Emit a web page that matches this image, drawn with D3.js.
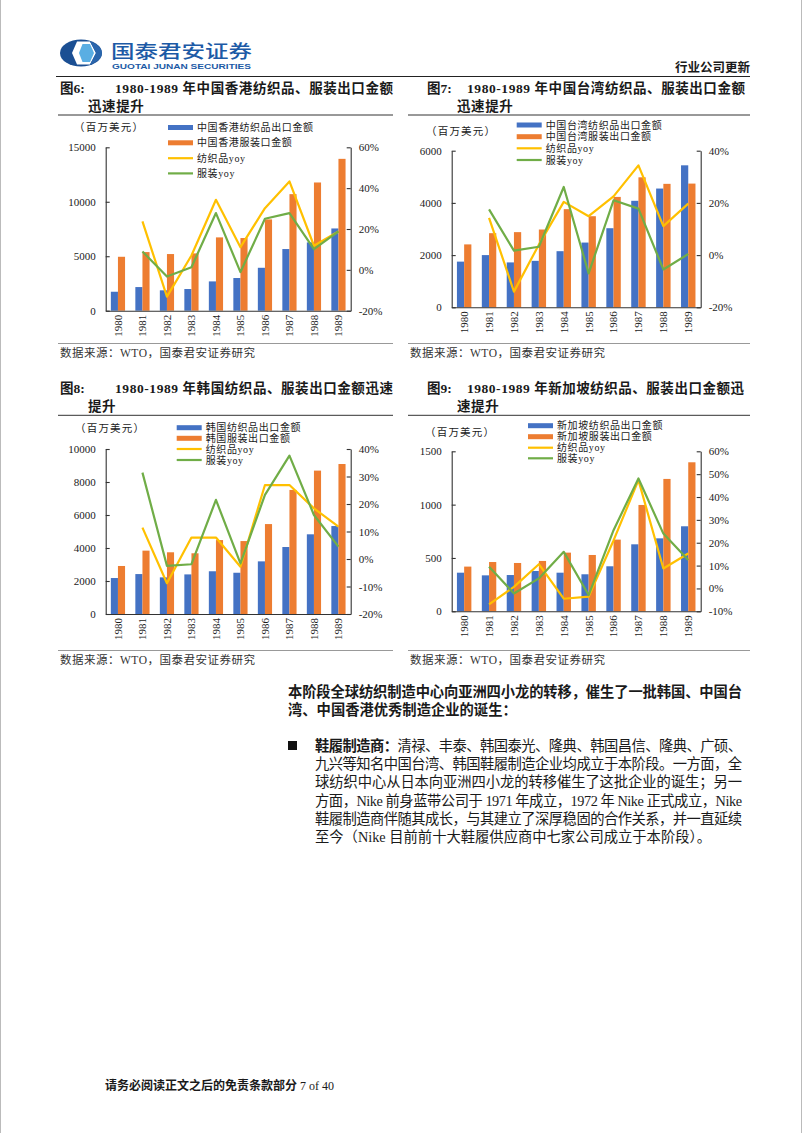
<!DOCTYPE html>
<html>
<head>
<meta charset="utf-8">
<script src="https://cdn.jsdelivr.net/npm/d3@7/dist/d3.min.js"></script>
<style>
  body { margin: 0; background: #fff; }
  svg { display: block; }
</style>
</head>
<body>
<svg id="page" width="802" height="1133"></svg>
<script>
// ---- data ----
const years = ["1980", "1981", "1982", "1983", "1984", "1985", "1986", "1987", "1988", "1989"];

const hkTextile = [1740, 2170, 1870, 1990, 2690, 3000, 3940, 5660, 6270, 7550];
const hkApparel = [4950, 5380, 5200, 5260, 6730, 6670, 8380, 10700, 11770, 13940];
const hkTextileYoy = [null, 23.7, -13.1, 7.0, 34.3, 11.1, 30.2, 43.3, 11.8, 18.8];
const hkApparelYoy = [null, 9.0, -3.3, 1.3, 27.8, -1.1, 25.0, 27.8, 10.1, 18.8];

const twTextile = [1750, 2000, 1720, 1780, 2150, 2480, 3030, 4080, 4550, 5440];
const twApparel = [2410, 2840, 2880, 2980, 3760, 3490, 4230, 4980, 4730, 4740];
const twTextileYoy = [null, 14.3, -14.0, 4.0, 20.4, 14.9, 22.5, 34.4, 11.1, 19.7];
const twApparelYoy = [null, 17.5, 1.7, 3.2, 26.1, -7.0, 21.0, 17.8, -5.5, 0.4];

const krTextile = [2180, 2420, 2220, 2400, 2590, 2500, 3190, 4060, 4830, 5330];
const krApparel = [2910, 3840, 3740, 3680, 4480, 4420, 5450, 7520, 8690, 9090];
const krTextileYoy = [null, 11.4, -8.8, 7.8, 7.8, -2.8, 26.9, 26.9, 18.4, 11.8];
const krApparelYoy = [null, 31.4, -2.5, -1.9, 21.5, -1.6, 23.3, 37.6, 16.0, 4.5];

const sgTextile = [362, 337, 340, 378, 362, 347, 422, 628, 684, 797];
const sgApparel = [419, 462, 453, 472, 550, 528, 672, 997, 1241, 1397];
const sgTextileYoy = [null, -7.0, 0.7, 10.6, -4.5, -3.6, 21.0, 47.4, 8.7, 15.3];
const sgApparelYoy = [null, 9.5, -2.2, 4.4, 16.0, -2.9, 25.5, 48.1, 24.0, 12.4];

const hkLeftTicks = [0, 5000, 10000, 15000];
const hkRightTicks = [-20, 0, 20, 40, 60];
const twLeftTicks = [0, 2000, 4000, 6000];
const twRightTicks = [-20, 0, 20, 40];
const krLeftTicks = [0, 2000, 4000, 6000, 8000, 10000];
const krRightTicks = [-20, -10, 0, 10, 20, 30, 40];
const sgLeftTicks = [0, 500, 1000, 1500];
const sgRightTicks = [-10, 0, 10, 20, 30, 40, 50, 60];

const hkLegend = ["中国香港纺织品出口金额", "中国香港服装口金额", "纺织品yoy", "服装yoy"];
const twLegend = ["中国台湾纺织品出口金额", "中国台湾服装出口金额", "纺织品yoy", "服装yoy"];
const krLegend = ["韩国纺织品出口金额", "韩国服装出口金额", "纺织品yoy", "服装yoy"];
const sgLegend = ["新加坡纺织品出口金额", "新加坡服装出口金额", "纺织品yoy", "服装yoy"];

// ---- style ----
const blue = "#4472C4", orange = "#ED7D31", yellow = "#FFC000", green = "#70AD47";
const textColor = "#1a1a1a";
const serif = "'Liberation Serif','Times New Roman','Noto Sans CJK SC',serif";

let svg = d3.select("#page");

// faint page edges
svg.append("line").attr("x1", 0.5).attr("x2", 0.5).attr("y1", 0).attr("y2", 1133).style("stroke", "#bbb");
svg.append("line").attr("x1", 801.5).attr("x2", 801.5).attr("y1", 0).attr("y2", 1133).style("stroke", "#bbb");

// ---- header ----
function drawHeader() {
  let logo = svg.append("g");
  logo.append("ellipse").attr("cx", 81).attr("cy", 53).attr("rx", 21).attr("ry", 13.5).style("fill", "#1b4f93");
  logo.append("path")
    .attr("d", "M72,53 L77,41.5 L90,41.5 L96,53 L90,64.5 L77,64.5 Z")
    .style("fill", "#fff");
  logo.append("path")
    .attr("d", "M79,53 L82.5,44 L90,44 L94,53 L90,62 L82.5,62 Z")
    .style("fill", "#5aaee3");
  logo.append("path")
    .attr("d", "M96,53 L90,41.5 L93,42.5 Q102,47 102,53 Q102,59 93,63.5 L90,64.5 Z")
    .style("fill", "#2a66ad");

  svg.append("text")
    .attr("x", 111).attr("y", 58)
    .attr("textLength", 141).attr("lengthAdjust", "spacingAndGlyphs")
    .text("国泰君安证券")
    .style("font-family", "'Noto Sans CJK SC'")
    .style("font-weight", "500")
    .style("font-size", "18px")
    .style("fill", "#1c5aa6");
  svg.append("text")
    .attr("x", 112).attr("y", 68.5)
    .attr("textLength", 139).attr("lengthAdjust", "spacingAndGlyphs")
    .text("GUOTAI JUNAN SECURITIES")
    .style("font-family", "'Liberation Sans',Arial,sans-serif")
    .style("font-weight", "bold")
    .style("font-size", "7.5px")
    .style("fill", "#1c5aa6");

  svg.append("text")
    .attr("x", 750).attr("y", 72)
    .text("行业公司更新")
    .style("text-anchor", "end")
    .style("font-family", serif)
    .style("font-weight", "bold")
    .style("font-size", "12.5px")
    .style("fill", textColor);

  svg.append("line")
    .attr("x1", 56).attr("x2", 750).attr("y1", 76.5).attr("y2", 76.5)
    .style("stroke", "#222").style("stroke-width", 1.2);
}

// ---- one figure ----
function drawChart(cfg) {
  let g = svg.append("g");

  // title
  g.append("text")
    .attr("x", cfg.figX).attr("y", cfg.titleY)
    .text(cfg.fig)
    .style("font-family", serif).style("font-weight", "bold").style("font-size", "13.5px")
    .style("fill", textColor);
  g.append("text")
    .attr("x", cfg.titleX).attr("y", cfg.titleY)
    .attr("textLength", cfg.titleEnd - cfg.titleX).attr("lengthAdjust", "spacing")
    .text(cfg.title1)
    .style("font-family", serif).style("font-weight", "bold").style("font-size", "13.5px")
    .style("fill", textColor);
  g.append("text")
    .attr("x", cfg.title2X).attr("y", cfg.titleY + 17.8)
    .text(cfg.title2)
    .style("font-family", serif).style("font-weight", "bold").style("font-size", "13.5px")
    .style("letter-spacing", "0.6px")
    .style("fill", textColor);
  g.append("line")
    .attr("x1", cfg.ruleX0).attr("x2", cfg.ruleX1).attr("y1", cfg.titleY + 22).attr("y2", cfg.titleY + 22)
    .style("stroke", "#333").style("stroke-width", 1);

  // source
  g.append("line")
    .attr("x1", cfg.ruleX0).attr("x2", cfg.ruleX1).attr("y1", cfg.sourceY - 13.5).attr("y2", cfg.sourceY - 13.5)
    .style("stroke", "#999").style("stroke-width", 1);
  g.append("text")
    .attr("x", cfg.ruleX0 + 2).attr("y", cfg.sourceY)
    .text("数据来源：WTO，国泰君安证券研究")
    .style("font-family", serif).style("font-size", "11.5px")
    .style("letter-spacing", "0.5px")
    .style("fill", "#333");

  // unit
  g.append("text")
    .attr("x", cfg.unitX).attr("y", cfg.unitY)
    .text("（百万美元）")
    .style("font-family", serif).style("font-size", "10.5px")
    .style("letter-spacing", "1.2px")
    .style("fill", textColor);

  // scales
  let x = d3.scaleBand().domain(years).range([cfg.x0, cfg.x1]);
  let yL = d3.scaleLinear().domain(d3.extent(cfg.leftTicks)).range([cfg.yBot, cfg.yTop]);
  let yR = d3.scaleLinear().domain(d3.extent(cfg.rightTicks)).range([cfg.yBot, cfg.yTop]);
  let bw = x.bandwidth() * 0.29;
  let mid = (i) => x(years[i]) + x.bandwidth() / 2;

  g.selectAll(".textileBar")
    .data(cfg.textile)
    .enter()
    .append("rect")
      .attr("x", (d, i) => mid(i) - bw)
      .attr("y", d => yL(d))
      .attr("width", bw)
      .attr("height", d => yL(0) - yL(d))
      .style("fill", blue);
  g.selectAll(".apparelBar")
    .data(cfg.apparel)
    .enter()
    .append("rect")
      .attr("x", (d, i) => mid(i))
      .attr("y", d => yL(d))
      .attr("width", bw)
      .attr("height", d => yL(0) - yL(d))
      .style("fill", orange);

  let line = d3.line()
    .defined(d => d != null)
    .x((d, i) => mid(i))
    .y(d => yR(d));
  g.append("path").datum(cfg.textileYoy).attr("d", line)
    .style("fill", "none").style("stroke", yellow).style("stroke-width", 2.2).style("stroke-linejoin", "round");
  g.append("path").datum(cfg.apparelYoy).attr("d", line)
    .style("fill", "none").style("stroke", green).style("stroke-width", 2.2).style("stroke-linejoin", "round");

  // axes
  let axL = g.append("g")
    .attr("transform", `translate(${cfg.x0},0)`)
    .call(d3.axisLeft(yL).tickValues(cfg.leftTicks).tickSizeInner(-4).tickSizeOuter(0).tickPadding(10)
      .tickFormat(d3.format("d")));
  let axR = g.append("g")
    .attr("transform", `translate(${cfg.x1},0)`)
    .call(d3.axisRight(yR).tickValues(cfg.rightTicks).tickSizeInner(-4).tickSizeOuter(0).tickPadding(8)
      .tickFormat(d => d + "%"));
  let axB = g.append("g")
    .attr("transform", `translate(0,${cfg.yBot})`)
    .call(d3.axisBottom(x).tickSize(0).tickPadding(0));
  axB.selectAll("text")
    .attr("transform", "rotate(-90)")
    .attr("x", -4).attr("y", 0).attr("dy", "0.35em")
    .style("text-anchor", "end");

  [axL, axR, axB].forEach(a => {
    a.selectAll("path, line").style("stroke", "#333").style("stroke-width", 1.1);
    a.selectAll("text")
      .style("font-family", serif).style("font-size", "11px").style("fill", textColor);
  });

  // legend
  cfg.legend.forEach((name, i) => {
    let y = cfg.legendRows[i];
    if (i < 2) {
      g.append("rect")
        .attr("x", cfg.legendX).attr("y", y - 2.5).attr("width", 25).attr("height", 5)
        .style("fill", i == 0 ? blue : orange);
    } else {
      g.append("line")
        .attr("x1", cfg.legendX).attr("x2", cfg.legendX + 25).attr("y1", y).attr("y2", y)
        .style("stroke", i == 2 ? yellow : green).style("stroke-width", 2.2);
    }
    g.append("text")
      .attr("x", cfg.legendX + 29).attr("y", y).attr("dy", "0.36em")
      .text(name)
      .style("font-family", serif).style("font-size", "10px")
      .style("letter-spacing", "0.6px")
      .style("fill", textColor);
  });
}

// ---- body text ----
function drawBody() {
  let para = ["本阶段全球纺织制造中心向亚洲四小龙的转移，催生了一批韩国、中国台",
              "湾、中国香港优秀制造企业的诞生："];
  para.forEach((t, i) => {
    let el = svg.append("text")
      .attr("x", 288).attr("y", 697 + i * 18.4)
      .text(t)
      .style("font-family", serif).style("font-weight", "bold").style("font-size", "14.3px")
      .style("fill", textColor);
    if (i == 0) el.attr("textLength", 454).attr("lengthAdjust", "spacing");
  });

  svg.append("rect").attr("x", 288).attr("y", 741).attr("width", 9).attr("height", 9).style("fill", "#111");

  let bullet = [
    "清禄、丰泰、韩国泰光、隆典、韩国昌信、隆典、广硕、",
    "九兴等知名中国台湾、韩国鞋履制造企业均成立于本阶段。一方面，全",
    "球纺织中心从日本向亚洲四小龙的转移催生了这批企业的诞生；另一",
    "方面，Nike 前身蓝带公司于 1971 年成立，1972 年 Nike 正式成立，Nike",
    "鞋履制造商伴随其成长，与其建立了深厚稳固的合作关系，并一直延续",
    "至今（Nike 目前前十大鞋履供应商中七家公司成立于本阶段）。"
  ];
  bullet.forEach((t, i) => {
    let y = 750.5 + i * 18.35;
    if (i == 0) {
      let el = svg.append("text").attr("x", 315).attr("y", y)
        .attr("textLength", 427).attr("lengthAdjust", "spacing")
        .style("font-family", serif).style("font-size", "14.3px").style("fill", textColor);
      el.append("tspan").text("鞋履制造商：").style("font-weight", "bold");
      el.append("tspan").text(t);
    } else {
      let el = svg.append("text").attr("x", 315).attr("y", y)
        .text(t)
        .style("font-family", serif).style("font-size", "14.3px").style("fill", textColor);
      if (i < 5) el.attr("textLength", 427).attr("lengthAdjust", "spacing");
    }
  });

  let foot = svg.append("text").attr("x", 105).attr("y", 1090)
    .style("font-family", serif).style("font-size", "12px").style("fill", textColor);
  foot.append("tspan").text("请务必阅读正文之后的免责条款部分").style("font-weight", "bold");
  foot.append("tspan").text(" 7 of 40");
}

drawHeader();

drawChart({
  fig: "图6:", title1: "1980-1989 年中国香港纺织品、服装出口金额", title2: "迅速提升",
  figX: 60, titleX: 115, titleEnd: 393, title2X: 88, titleY: 93,
  ruleX0: 58, ruleX1: 393, sourceY: 357,
  unitX: 74, unitY: 130.5,
  x0: 105.7, x1: 350.7, yTop: 147.3, yBot: 310.7,
  leftTicks: hkLeftTicks, rightTicks: hkRightTicks,
  textile: hkTextile, apparel: hkApparel, textileYoy: hkTextileYoy, apparelYoy: hkApparelYoy,
  legend: hkLegend, legendX: 168, legendRows: [127.5, 142.8, 158.2, 173.4]
});

drawChart({
  fig: "图7:", title1: "1980-1989 年中国台湾纺织品、服装出口金额", title2: "迅速提升",
  figX: 427, titleX: 467, titleEnd: 745, title2X: 457, titleY: 93,
  ruleX0: 408, ruleX1: 750, sourceY: 357,
  unitX: 426, unitY: 135,
  x0: 451.7, x1: 700.7, yTop: 150.7, yBot: 307.3,
  leftTicks: twLeftTicks, rightTicks: twRightTicks,
  textile: twTextile, apparel: twApparel, textileYoy: twTextileYoy, apparelYoy: twApparelYoy,
  legend: twLegend, legendX: 516.7, legendRows: [125, 136.7, 148.3, 160]
});

drawChart({
  fig: "图8:", title1: "1980-1989 年韩国纺织品、服装出口金额迅速", title2: "提升",
  figX: 60, titleX: 115, titleEnd: 393, title2X: 88, titleY: 393.3,
  ruleX0: 58, ruleX1: 393, sourceY: 664,
  unitX: 75, unitY: 432,
  x0: 105.7, x1: 350.7, yTop: 449, yBot: 614,
  leftTicks: krLeftTicks, rightTicks: krRightTicks,
  textile: krTextile, apparel: krApparel, textileYoy: krTextileYoy, apparelYoy: krApparelYoy,
  legend: krLegend, legendX: 176.7, legendRows: [427.7, 438.3, 449, 460]
});

drawChart({
  fig: "图9:", title1: "1980-1989 年新加坡纺织品、服装出口金额迅", title2: "速提升",
  figX: 427, titleX: 467, titleEnd: 744, title2X: 457, titleY: 393.3,
  ruleX0: 408, ruleX1: 750, sourceY: 664,
  unitX: 425, unitY: 435.5,
  x0: 451.7, x1: 700.7, yTop: 451.3, yBot: 611.3,
  leftTicks: sgLeftTicks, rightTicks: sgRightTicks,
  textile: sgTextile, apparel: sgApparel, textileYoy: sgTextileYoy, apparelYoy: sgApparelYoy,
  legend: sgLegend, legendX: 528, legendRows: [425.7, 436.7, 447.7, 458.3]
});

drawBody();
</script>
</body>
</html>
